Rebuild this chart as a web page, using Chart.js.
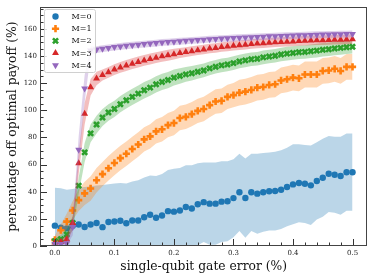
<!DOCTYPE html>
<html><head><meta charset="utf-8">
<script src="https://cdn.jsdelivr.net/npm/chart.js@4/dist/chart.umd.min.js"></script>
<style>html,body{margin:0;padding:0;background:#fff}#wrap{width:374px;height:278px}</style>
</head><body><div id="wrap"><canvas id="c" width="374" height="278"></canvas></div>
<script>
// ---------------- data ----------------
const errors = [0.00,0.01,0.02,0.03,0.04,0.05,0.06,0.07,0.08,0.09,0.10,0.11,0.12,0.13,0.14,0.15,0.16,0.17,0.18,0.19,0.20,0.21,0.22,0.23,0.24,0.25,0.26,0.27,0.28,0.29,0.30,0.31,0.32,0.33,0.34,0.35,0.36,0.37,0.38,0.39,0.40,0.41,0.42,0.43,0.44,0.45,0.46,0.47,0.48,0.49,0.50];
const seriesNames = ['M=0','M=1','M=2','M=3','M=4'];

const m0 = [15.0,13.5,13.0,15.0,15.8,14.0,15.8,17.0,13.9,17.7,18.1,18.6,16.8,18.8,18.8,21.2,23.0,20.8,22.5,25.7,25.3,26.2,28.7,27.6,30.8,32.3,31.2,31.2,32.7,33.0,35.3,39.6,35.4,39.6,38.6,39.6,40.3,40.5,41.5,43.5,45.4,46.4,45.9,44.7,47.9,50.3,53.3,52.5,51.6,54.3,54.4];
const m0Upper = [43,42.5,41.5,42,43,43.5,44,44.5,45,45.5,46,46.5,46,47.5,48.5,50.5,52,51.5,53,56,57,57.5,59.5,59.5,61,61.5,61.5,61.5,62.5,62.5,64,68,64.5,68,68,68.5,69,69.5,70.5,72.5,75,75,74.5,74,76.5,79,81,80.5,80.5,83,83];
const m0Lower = [-13,-15,-15.5,-12,-11.5,-15.5,-12.5,-10.5,-17,-10,-9.8,-9.3,-12.5,-10,-11,-8,-6,-10,-8,-4.5,-6.5,-5,-2,-4,0.5,3,1,1,3,3.5,6.5,11,6,11,9,10.5,11.5,11.5,12.5,14.5,16,17.5,17,15.5,19.5,21.5,25,24.5,23,26,26];

const m1 = [4.5,11.6,18.0,26.2,33.8,38.8,42.4,48.5,53.0,57.3,61.2,64.8,68.0,71.5,74.8,78.6,80.8,84.5,86.0,89.1,90.6,94.3,95.2,97.2,99.6,101.0,103.8,106.5,107.0,109.9,111.2,113.0,113.8,115.0,116.7,117.2,118.7,119.2,122.0,122.9,124.1,123.6,126.4,126.4,126.4,129.0,129.4,130.6,129.0,132.0,132.0];
const m1Upper = [7.5,16.1,24,33.2,41.8,47.3,51.4,57.5,62,66.3,70.2,73.8,77,80.5,83.8,87.6,89.8,93.5,95,98.1,99.6,103.3,104.2,106.2,108.6,110,112.8,115.5,116,118.9,120.2,122.5,123.3,124.5,126.2,126.7,128.2,128.7,131.5,132.4,133.6,133.1,135.9,135.9,135.9,138.5,138.9,140.1,138.5,141.5,141.5];
const m1Lower = [1.5,7.1,12,19.2,25.8,30.3,33.4,39.5,44,48.3,52.2,55.8,59,62.5,65.8,69.6,71.8,75.5,77,80.1,81.6,85.3,86.2,88.2,90.6,92,94.8,97.5,98,100.9,102.2,103.5,104.3,105.5,107.2,107.7,109.2,109.7,112.5,113.4,114.6,114.1,116.9,116.9,116.9,119.5,119.9,121.1,119.5,122.5,122.5];

const m2 = [3.5,5.0,8.5,17.0,44.5,69.0,83.0,89.5,94.7,98.4,101.0,104.5,107.4,109.9,112.3,114.8,116.7,119.2,120.9,122.3,124.1,125.3,126.5,127.3,128.4,129.4,130.9,132.1,133.1,133.8,134.8,136.0,136.8,137.6,138.0,139.0,139.6,140.2,141.2,141.8,142.3,142.8,143.0,143.6,144.0,144.6,145.0,145.6,146.0,146.5,146.8];
const m2Upper = [5.5,8,12.5,22,50.5,76,89.5,96,101,104.5,107,110.5,113.4,115.9,118.3,120.8,122.7,125.2,126.9,128.3,130,131,132,132.6,133.6,134.5,136,137.1,138.1,138.8,139.8,141,141.8,142.6,143,144,144.6,145.2,146.2,146.8,147.3,147.8,148,148.6,149,149.6,150,150.6,151,151.5,151.8];
const m2Lower = [1.5,2,4.5,12,38.5,62,76.5,83,88.4,92.3,95,98.5,101.4,103.9,106.3,108.8,110.7,113.2,114.9,116.3,118.2,119.6,121,122,123.2,124.3,125.8,127.1,128.1,128.8,129.8,131,131.8,132.6,133,134,134.6,135.2,136.2,136.8,137.3,137.8,138,138.6,139,139.6,140,140.6,141,141.5,141.8];

const m3 = [2.5,3.0,5.0,17.0,61.0,97.5,117.0,123.5,126.0,128.0,130.0,131.6,133.0,134.4,135.6,136.8,137.8,138.8,139.8,140.6,141.4,142.2,142.9,143.6,144.3,144.9,145.5,146.0,146.6,147.1,147.6,148.0,148.4,148.8,149.2,149.5,149.8,150.1,150.4,150.6,150.8,151.0,151.2,151.4,151.6,151.7,151.9,152.0,152.1,152.2,152.3];
const m3Upper = [4,5,8,22,69,105.5,123,128.5,130,132,134,135.6,137,138.4,139.6,140.8,141.8,142.8,143.8,144.6,145.4,145.9,146.5,147.2,147.8,148.4,149,149.5,150.1,150.6,151.1,151.5,151.9,152.3,152.7,153,153.3,153.6,153.9,154.1,154.3,154.5,154.7,154.9,155.1,155.2,155.4,155.5,155.6,155.7,155.8];
const m3Lower = [1,1,2,12,53,89.5,111,118.5,122,124,126,127.6,129,130.4,131.6,132.8,133.8,134.8,135.8,136.6,137.4,138.5,139.3,140,140.8,141.4,142,142.5,143.1,143.6,144.1,144.5,144.9,145.3,145.7,146,146.3,146.6,146.9,147.1,147.3,147.5,147.7,147.9,148.1,148.2,148.4,148.5,148.6,148.7,148.8];

const m4 = [1.5,1.5,2.0,14.0,71.0,116.0,144.0,144.8,145.4,146.0,146.6,147.1,147.6,148.0,148.4,148.8,149.2,149.6,150.0,150.3,150.6,150.9,151.2,151.5,151.8,152.1,152.4,152.6,152.9,153.1,153.3,153.5,153.7,153.9,154.1,154.3,154.5,154.6,154.8,155.0,155.1,155.3,155.4,155.5,155.7,155.8,155.9,156.0,156.1,156.2,156.3];
const m4Upper = [2.5,2.5,3.5,20,81,126,147,147.3,147.9,148.5,149.1,149.6,150.1,150.5,150.9,151.3,151.7,152.1,152.5,152.8,153.1,153.4,153.7,154,154.3,154.6,154.9,155.1,155.4,155.6,155.8,156,156.2,156.4,156.6,156.8,157,157.1,157.3,157.5,157.6,157.8,157.9,158,158.2,158.3,158.4,158.5,158.6,158.7,158.8];
const m4Lower = [0.5,0.5,0.5,8,61,106,141,142.3,142.9,143.5,144.1,144.6,145.1,145.5,145.9,146.3,146.7,147.1,147.5,147.8,148.1,148.4,148.7,149,149.3,149.6,149.9,150.1,150.4,150.6,150.8,151,151.2,151.4,151.6,151.8,152,152.1,152.3,152.5,152.6,152.8,152.9,153,153.2,153.3,153.4,153.5,153.6,153.7,153.8];

const xTickValues = [0.0,0.1,0.2,0.3,0.4,0.5];
const yTickValues = [0,20,40,60,80,100,120,140,160];
const xMinorStep = 0.02;
const yMinorStep = 5;

// ---------------- styling ----------------
const colors = ['#1f77b4','#ff7f0e','#2ca02c','#d62728','#9467bd'];
const bandColors = ['rgba(31,119,180,0.3)','rgba(255,127,14,0.3)','rgba(44,160,44,0.3)','rgba(214,39,40,0.3)','rgba(148,103,189,0.3)'];
const markers = [
  {style:'circle', r:3.2, bw:0, rot:0},
  {style:'cross', r:3.6, bw:2.6, rot:0},
  {style:'crossRot', r:3.6, bw:2.6, rot:0},
  {style:'triangle', r:4.0, bw:0, rot:0},
  {style:'triangle', r:4.0, bw:0, rot:180}
];
const means = [m0,m1,m2,m3,m4];
const uppers = [m0Upper,m1Upper,m2Upper,m3Upper,m4Upper];
const lowers = [m0Lower,m1Lower,m2Lower,m3Lower,m4Lower];
const pts = arr => errors.map((x,i)=>({x:x, y:arr[i]}));

const datasets = [];
let ord = 1000;
for (let s=0; s<5; s++) {
  datasets.push({label:'upper'+s, data:pts(uppers[s]), showLine:true, borderWidth:0, borderColor:'rgba(0,0,0,0)', pointRadius:0, fill:'+1', backgroundColor:bandColors[s], order:ord--});
  datasets.push({label:'lower'+s, data:pts(lowers[s]), showLine:true, borderWidth:0, borderColor:'rgba(0,0,0,0)', pointRadius:0, fill:false, order:ord--});
  const mk = markers[s];
  datasets.push({label:seriesNames[s], data:pts(means[s]), showLine:false, pointStyle:mk.style, pointRadius:mk.r, pointRotation:mk.rot,
    pointBackgroundColor:colors[s], pointBorderColor:colors[s], pointBorderWidth:mk.bw, fill:false, order:ord--});
}

const FONT = "'DejaVu Serif', serif";

function drawMarker(ctx, s, x, y) {
  const mk = markers[s], c = colors[s], r = mk.r;
  ctx.save();
  ctx.fillStyle = c; ctx.strokeStyle = c;
  ctx.beginPath();
  if (mk.style === 'circle') { ctx.arc(x,y,r,0,Math.PI*2); ctx.fill(); }
  else if (mk.style === 'cross') { ctx.lineWidth = mk.bw; ctx.moveTo(x-r,y); ctx.lineTo(x+r,y); ctx.moveTo(x,y-r); ctx.lineTo(x,y+r); ctx.stroke(); }
  else if (mk.style === 'crossRot') { ctx.lineWidth = mk.bw; const d=r*0.7071; ctx.moveTo(x-d,y-d); ctx.lineTo(x+d,y+d); ctx.moveTo(x+d,y-d); ctx.lineTo(x-d,y+d); ctx.stroke(); }
  else {
    const sgn = mk.rot ? -1 : 1;
    for (let k=0;k<3;k++){ const a = -Math.PI/2 + k*2*Math.PI/3; const px = x + r*Math.cos(a), py = y + sgn*r*Math.sin(a); if(k===0) ctx.moveTo(px,py); else ctx.lineTo(px,py);} ctx.closePath(); ctx.fill();
  }
  ctx.restore();
}

const decor = {
  id:'decor',
  afterDraw(chart) {
    const ctx = chart.ctx, a = chart.chartArea, xs = chart.scales.x, ys = chart.scales.y;
    ctx.save();
    ctx.strokeStyle = '#333'; ctx.lineWidth = 1;
    ctx.beginPath();
    for (let v=0; v<=0.5001; v+=xMinorStep) {
      const px = Math.round(xs.getPixelForValue(v))+0.5;
      const major = xTickValues.some(t=>Math.abs(t-v)<1e-6);
      ctx.moveTo(px, a.bottom); ctx.lineTo(px, a.bottom-(major?7:3.5));
    }
    for (let v=0; v<=ys.max; v+=yMinorStep) {
      const py = Math.round(ys.getPixelForValue(v))+0.5;
      const major = yTickValues.includes(v);
      ctx.moveTo(a.left, py); ctx.lineTo(a.left+(major?7:3.5), py);
    }
    ctx.stroke();
    ctx.strokeStyle = '#444';
    ctx.strokeRect(Math.round(a.left)+0.5, Math.round(a.top)+0.5, Math.round(a.right-a.left)-1, Math.round(a.bottom-a.top)-1);
    // legend
    const lx = 44.5, ly = 9.5, lw = 51, lh = 63, rr = 2;
    ctx.fillStyle = 'rgba(255,255,255,0.85)';
    ctx.strokeStyle = '#d0d0d0';
    ctx.beginPath();
    ctx.moveTo(lx+rr,ly); ctx.lineTo(lx+lw-rr,ly); ctx.quadraticCurveTo(lx+lw,ly,lx+lw,ly+rr);
    ctx.lineTo(lx+lw,ly+lh-rr); ctx.quadraticCurveTo(lx+lw,ly+lh,lx+lw-rr,ly+lh);
    ctx.lineTo(lx+rr,ly+lh); ctx.quadraticCurveTo(lx,ly+lh,lx,ly+lh-rr);
    ctx.lineTo(lx,ly+rr); ctx.quadraticCurveTo(lx,ly,lx+rr,ly); ctx.closePath();
    ctx.fill(); ctx.stroke();
    ctx.font = "8px " + FONT; ctx.textBaseline = 'middle'; ctx.textAlign = 'left';
    for (let s=0;s<5;s++){
      const y = 16.5 + s*12.2;
      drawMarker(ctx, s, 55.5, y);
      ctx.fillStyle = '#111';
      ctx.fillText(seriesNames[s], 71.5, y+0.5);
    }
    ctx.restore();
  }
};

new Chart(document.getElementById('c'), {
  type:'line',
  data:{datasets},
  plugins:[decor],
  options:{
    responsive:false, animation:false, devicePixelRatio:1,
    layout:{padding:{left:0, top:6, right:6, bottom:0}},
    plugins:{legend:{display:false}, tooltip:{enabled:false}, filler:{propagate:false}},
    elements:{line:{tension:0}},
    scales:{
      x:{type:'linear', min:-0.025, max:0.525,
        afterBuildTicks: sc => { sc.ticks = xTickValues.map(v=>({value:v})); },
        afterFit: sc => { sc.height = 32; },
        grid:{display:false, drawTicks:false}, border:{display:false},
        ticks:{padding:3, color:'#222', font:{family:FONT, size:7}, callback: v => Number(v).toFixed(1), maxRotation:0, autoSkip:false},
        title:{display:true, text:'single-qubit gate error (%)', color:'#111', font:{family:FONT, size:12.3}, padding:{top:0, bottom:4}}
      },
      y:{type:'linear', min:0, max:176,
        afterBuildTicks: sc => { sc.ticks = yTickValues.map(v=>({value:v})); },
        afterFit: sc => { sc.width = 40; },
        grid:{display:false, drawTicks:false}, border:{display:false},
        ticks:{padding:3, color:'#222', font:{family:FONT, size:7}, autoSkip:false},
        title:{display:true, text:'percentage off optimal payoff (%)', color:'#111', font:{family:FONT, size:12.4}, padding:{top:5, bottom:0}}
      }
    }
  }
});
</script>
</body></html>
